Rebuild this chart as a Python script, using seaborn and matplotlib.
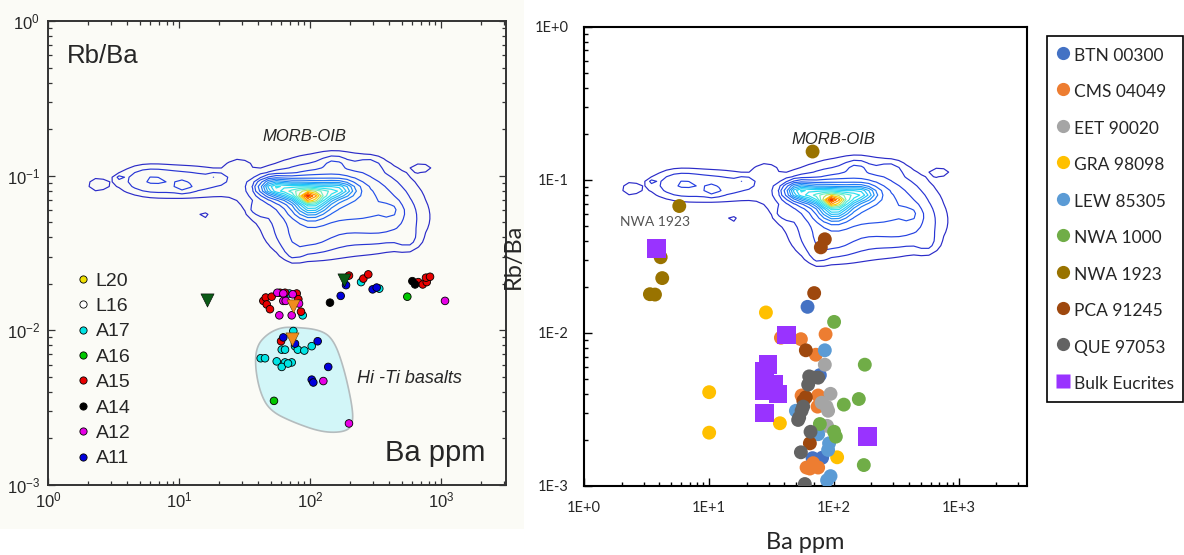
import numpy as np
import pandas as pd
import matplotlib
matplotlib.use("Agg")
import matplotlib.pyplot as plt
import seaborn as sns
from matplotlib.lines import Line2D
from matplotlib.patches import Polygon, Rectangle
from matplotlib.colors import LinearSegmentedColormap
from matplotlib.ticker import LogLocator, FixedLocator, FixedFormatter, NullFormatter

sns.set_theme(style="white")
plt.rcParams["mathtext.default"] = "regular"

# ---------------- Lunar basalts (left panel) ----------------
lunar_sites = ["L20", "L16", "A17", "A16", "A15", "A14", "A12", "A11"]
lunar_colors = ["#f0e000", "#ffffff", "#00e4e4", "#00c800", "#e80000", "#000000", "#e600e6", "#0000dc"]

a17_ba = [69.2, 87.5, 244, 336, 74.2, 76.4, 80.2, 90.0, 102.5, 60.5, 64.1, 41.8, 45.1, 55.4, 64.1, 72.1, 60.5, 67.6]
a17_rbba = [0.0173, 0.0125, 0.0205, 0.0186, 0.0099, 0.0079, 0.0075, 0.0074, 0.0079, 0.0075, 0.0075,
            0.0066, 0.0066, 0.0063, 0.0062, 0.0062, 0.0058, 0.0061]
a16_ba = [550, 52.8]
a16_rbba = [0.0165, 0.0035]
a15_ba = [43.8, 45.7, 46.5, 49.2, 50.7, 58.7, 64.1, 78.7, 81.0, 84.9, 197.3, 254, 277, 667, 721, 774, 764, 820, 59.8]
a15_rbba = [0.0155, 0.0163, 0.0147, 0.0137, 0.0165, 0.0175, 0.0175, 0.0173, 0.0159, 0.0132, 0.0226, 0.0216,
            0.0230, 0.0205, 0.0198, 0.0205, 0.0219, 0.0222, 0.0085]
a14_ba = [141.3, 601, 630]
a14_rbba = [0.0151, 0.0208, 0.0198]
a12_ba = [56.0, 62.2, 73.4, 62.2, 64.9, 82.0, 58.0, 72.1, 1067, 125.7, 197.3]
a12_rbba = [0.0175, 0.0173, 0.0171, 0.0155, 0.0155, 0.0149, 0.0125, 0.0125, 0.0155, 0.0047, 0.0025]
a11_ba = [187.4, 170.6, 299, 321, 62.2, 76.4, 113.8, 137, 102.5, 105.4]
a11_rbba = [0.0196, 0.0167, 0.0184, 0.0189, 0.0090, 0.0082, 0.0085, 0.0058, 0.0048, 0.0046]

tri_green_ba = [16.4, 181.9]
tri_green_rbba = [0.0157, 0.0213]
tri_orange_ba = [74.2, 72.1]
tri_orange_rbba = [0.0144, 0.0088]

# outline of the high-Ti basalt field
hiti_ba = [74.2, 118.6, 150, 178.6, 207, 213, 190, 125.7, 74.2, 49.2, 41.3, 37.8, 39.0, 46.5, 58.7]
hiti_rbba = [0.0105, 0.0101, 0.00875, 0.00589, 0.00341, 0.00254, 0.00221, 0.00218, 0.00254, 0.00302,
             0.00396, 0.00589, 0.00792, 0.00942, 0.0104]

# ---------------- Eucrites (right panel) ----------------
eucrite_names = ["BTN 00300", "CMS 04049", "EET 90020", "GRA 98098", "LEW 85305",
                 "NWA 1000", "NWA 1923", "PCA 91245", "QUE 97053"]
eucrite_colors = ["#4472c4", "#ed7d31", "#a5a5a5", "#ffc000", "#5b9bd5",
                  "#70ad47", "#997300", "#9e480e", "#636363"]
bulk_name = "Bulk Eucrites"
bulk_color = "#9933ff"

btn_ba = [61.6, 77.3, 67.6, 80.6]
btn_rbba = [0.0148, 0.0053, 0.00152, 0.00153]
cms_ba = [85.9, 37.7, 54.5, 71.8, 55.2, 74.9, 74.1, 60.5, 68.3, 74.9, 64.3]
cms_rbba = [0.0098, 0.0093, 0.0091, 0.0072, 0.0039, 0.0039, 0.0033, 0.00132, 0.00141, 0.00132, 0.0013]
eet_ba = [84.7, 94.1, 79.8, 87.5, 90.0, 88.3]
eet_rbba = [0.0062, 0.0040, 0.0035, 0.0033, 0.0031, 0.00247]
gra_ba = [28.6, 10.05, 10.05, 37.0, 106.3]
gra_rbba = [0.0136, 0.0041, 0.00223, 0.00257, 0.00154]
lew_ba = [84.7, 49.7, 74.9, 91.6, 90.0, 94.1, 88.3]
lew_rbba = [0.0077, 0.0031, 0.00218, 0.0019, 0.00172, 0.00116, 0.00109]
nwa1000_ba = [100.5, 177, 120.2, 158.5, 77.3, 100.5, 103.8, 173.8]
nwa1000_rbba = [0.0118, 0.0062, 0.0034, 0.0037, 0.00254, 0.00226, 0.0021, 0.00137]
nwa1923_ba = [67.6, 5.79, 4.11, 4.23, 3.37, 3.70]
nwa1923_rbba = [0.153, 0.0674, 0.0312, 0.0228, 0.0179, 0.0178]
pca_ba = [84.7, 78.7, 69.6, 59.7, 57.0, 59.7, 64.3]
pca_rbba = [0.0409, 0.0362, 0.0182, 0.0077, 0.0036, 0.0038, 0.0019]
que_ba = [63.5, 68.3, 74.9, 62.3, 56.8, 55.2, 52.8, 51.8, 65.1, 54.5, 58.6]
que_rbba = [0.0052, 0.0051, 0.0051, 0.0046, 0.0033, 0.0031, 0.0028, 0.0027, 0.00226, 0.00166, 0.00103]
bulk_ba = [3.82, 41.8, 29.8, 27.7, 27.7, 32.7, 27.7, 35.8, 27.7, 186]
bulk_rbba = [0.0357, 0.0097, 0.0062, 0.0056, 0.0047, 0.0046, 0.0042, 0.0040, 0.0030, 0.0021]

# ---------------- MORB-OIB density field: components in log10 units ----------------
morb_logba = [1.985, 1.72, 1.88, 2.05, 2.22, 2.00, 2.20, 2.10, 1.95, 2.60, 1.00, 0.75,
              1.03, 1.29, 0.37, 0.53, 2.85, 1.05, 1.18, 2.18,
              1.87, 2.75, 2.45, 1.45, 2.62, 1.60]
morb_logratio = [-1.137, -1.075, -1.10, -1.12, -1.09, -1.20, -1.19, -1.12, -1.40, -1.30, -1.04, -1.02,
                 -1.07, -1.01, -1.06, -1.015, -0.95, -1.26, -1.26, -0.92,
                 -1.50, -1.42, -0.93, -0.93, -1.22, -1.22]
morb_weight = [0.6, 0.45, 0.5, 0.5, 0.35, 0.35, 0.09, 0.10, 0.05, 0.045, 0.06, 0.03,
               0.05, 0.04, 0.035, 0.03, 0.035, 0.03, 0.03, 0.04,
               0.025, 0.025, 0.03, 0.03, 0.04, 0.03]
morb_sx = [0.04, 0.07, 0.09, 0.09, 0.08, 0.08, 0.34, 0.30, 0.15, 0.18, 0.30, 0.12,
           0.04, 0.04, 0.05, 0.02, 0.05, 0.03, 0.04, 0.06,
           0.05, 0.06, 0.06, 0.06, 0.05, 0.04]
morb_sy = [0.02, 0.035, 0.04, 0.045, 0.035, 0.05, 0.19, 0.10, 0.08, 0.10, 0.07, 0.06,
           0.02, 0.02, 0.03, 0.015, 0.02, 0.02, 0.02, 0.03,
           0.04, 0.05, 0.03, 0.03, 0.04, 0.03]
morb_levels = [0.02, 0.04, 0.07, 0.11, 0.17, 0.24, 0.31, 0.38, 0.45, 0.52, 0.6, 0.68, 0.76, 0.85,
               0.95, 1.05, 1.2, 1.35, 1.5]
morb_peak_levels = [1.2, 1.35, 1.5, 10]

morb_cmap = LinearSegmentedColormap.from_list(
    "morb", ["#2b2bc8", "#2540e0", "#2060f0", "#1f90f6", "#22c0f8", "#2ae0f0", "#70f0c0",
             "#ffd000", "#ff6a00", "#e00000"])


def morb_field():
    lx = np.arange(0.0, 3.6, 0.06)
    ly = np.arange(-2.0, -0.45, 0.03)
    X, Y = np.meshgrid(lx, ly)
    Z = np.zeros_like(X)
    for cx, cy, w, sx, sy in zip(morb_logba, morb_logratio, morb_weight, morb_sx, morb_sy):
        Z += w * np.exp(-0.5 * (((X - cx) / sx) ** 2 + ((Y - cy) / sy) ** 2))
    return 10 ** X, 10 ** Y, Z


def draw_morb(ax):
    X, Y, Z = morb_field()
    n = len(morb_levels)
    cols = [morb_cmap(i / (n - 1)) for i in range(n)]
    ax.contourf(X, Y, Z, levels=morb_peak_levels, colors=["#ffb000", "#ff5000", "#d80000"], zorder=1)
    ax.contour(X, Y, Z, levels=morb_levels, colors=cols, linewidths=0.85, zorder=2)


def smooth_closed(xs, ys, n_iter=3):
    pts = np.column_stack([np.log10(xs), np.log10(ys)])
    for _ in range(n_iter):
        nxt = np.roll(pts, -1, axis=0)
        q = 0.75 * pts + 0.25 * nxt
        r = 0.25 * pts + 0.75 * nxt
        pts = np.empty((2 * len(q), 2))
        pts[0::2] = q
        pts[1::2] = r
    return 10 ** pts


fig = plt.figure(figsize=(11.84, 5.55), dpi=100)
fig.patch.set_facecolor("white")
fig.add_artist(Rectangle((0, 1 - 529 / 555), 524 / 1184, 529 / 555, transform=fig.transFigure,
                         facecolor="#fbfbf6", edgecolor="none", zorder=0))

axL = fig.add_axes([48.3 / 1184, 1 - 485 / 555, 457.4 / 1184, 464 / 555])
axR = fig.add_axes([584 / 1184, 1 - 486 / 555, 442.7 / 1184, 459.3 / 555])

# ================= left panel =================
lf = "Liberation Sans"
axL.set_facecolor("#fbfbf6")
axL.set_xscale("log")
axL.set_yscale("log")
axL.set_xlim(1, 3100)
axL.set_ylim(1e-3, 1)

draw_morb(axL)

poly = smooth_closed(hiti_ba, hiti_rbba)
axL.add_patch(Polygon(poly, closed=True, facecolor="#d2f6f8", edgecolor="#b4bcbe", linewidth=1.2, zorder=1.5))

lunar_df = pd.concat([
    pd.DataFrame({"ba": a17_ba, "rbba": a17_rbba, "site": "A17"}),
    pd.DataFrame({"ba": a16_ba, "rbba": a16_rbba, "site": "A16"}),
    pd.DataFrame({"ba": a15_ba, "rbba": a15_rbba, "site": "A15"}),
    pd.DataFrame({"ba": a14_ba, "rbba": a14_rbba, "site": "A14"}),
    pd.DataFrame({"ba": a12_ba, "rbba": a12_rbba, "site": "A12"}),
    pd.DataFrame({"ba": a11_ba, "rbba": a11_rbba, "site": "A11"}),
], ignore_index=True)
lunar_pal = dict(zip(lunar_sites, lunar_colors))
sns.scatterplot(data=lunar_df, x="ba", y="rbba", hue="site", palette=lunar_pal, s=30,
                edgecolor="black", linewidth=0.6, legend=False, ax=axL, zorder=4)
sns.scatterplot(x=tri_green_ba, y=tri_green_rbba, marker="v", color="#0b5a16", s=90,
                edgecolor="black", linewidth=0.4, ax=axL, zorder=5)
sns.scatterplot(x=tri_orange_ba, y=tri_orange_rbba, marker="v", color="#f08c1e", s=90,
                edgecolor="#604000", linewidth=0.4, ax=axL, zorder=5)

axL.text(91, 0.178, "MORB-OIB", style="italic", fontsize=12, family=lf, ha="center", va="center", zorder=6)
axL.text(227, 0.0049, "Hi -Ti basalts", style="italic", fontsize=13, family=lf, ha="left", va="center", zorder=6)
axL.text(0.04, 0.925, "Rb/Ba", transform=axL.transAxes, fontsize=18.5, family=lf, ha="left", va="center")
axL.text(0.955, 0.068, "Ba ppm", transform=axL.transAxes, fontsize=21, family=lf, ha="right", va="center")

axL.xaxis.set_major_locator(LogLocator(base=10, numticks=10))
axL.xaxis.set_minor_locator(LogLocator(base=10, subs=np.arange(2, 10), numticks=40))
axL.yaxis.set_major_locator(LogLocator(base=10, numticks=10))
axL.yaxis.set_minor_locator(LogLocator(base=10, subs=np.arange(2, 10), numticks=40))
axL.xaxis.set_minor_formatter(NullFormatter())
axL.yaxis.set_minor_formatter(NullFormatter())
axL.tick_params(which="both", direction="in", top=True, right=True, bottom=True, left=True,
                color="#333333", width=0.9)
axL.tick_params(which="major", length=5, labelsize=12, pad=6)
axL.tick_params(axis="x", which="major", pad=4)
axL.tick_params(which="minor", length=2.8)
for lab in axL.get_xticklabels() + axL.get_yticklabels():
    lab.set_family(lf)
for sp in axL.spines.values():
    sp.set_color("#333333")
    sp.set_linewidth(1.4)
axL.set_xlabel("")
axL.set_ylabel("")

lh = [Line2D([], [], ls="", marker="o", markersize=5.2, markerfacecolor=c, markeredgecolor="black",
             markeredgewidth=0.6) for c in lunar_colors]
legL = axL.legend(lh, lunar_sites, loc="upper left", bbox_to_anchor=(77 / 1184, 1 - 272 / 555),
                  bbox_transform=fig.transFigure, frameon=False, labelspacing=0.40,
                  handlelength=0.6, handletextpad=0.35, borderpad=0, borderaxespad=0,
                  prop={"family": lf, "size": 14})

# ================= right panel =================
rf = "Lato"
axR.set_facecolor("white")
axR.set_xscale("log")
axR.set_yscale("log")
axR.set_xlim(1, 3500)
axR.set_ylim(1e-3, 1)

draw_morb(axR)

eu_df = pd.concat([
    pd.DataFrame({"ba": b, "rbba": r, "meteorite": n}) for n, b, r in zip(
        eucrite_names,
        [btn_ba, cms_ba, eet_ba, gra_ba, lew_ba, nwa1000_ba, nwa1923_ba, pca_ba, que_ba],
        [btn_rbba, cms_rbba, eet_rbba, gra_rbba, lew_rbba, nwa1000_rbba, nwa1923_rbba, pca_rbba, que_rbba])
], ignore_index=True)
eu_pal = dict(zip(eucrite_names, eucrite_colors))
sns.scatterplot(data=eu_df, x="ba", y="rbba", hue="meteorite", palette=eu_pal, s=100,
                edgecolor="none", linewidth=0, legend=False, ax=axR, zorder=4)
sns.scatterplot(x=bulk_ba, y=bulk_rbba, marker="s", color=bulk_color, s=180,
                edgecolor="none", linewidth=0, ax=axR, zorder=5)

axR.text(99, 0.182, "MORB-OIB", style="italic", fontsize=12, family=lf, ha="center", va="center", zorder=6)
axR.text(3.7, 0.0532, "NWA 1923", fontsize=10, family=rf, color="#555555", ha="center", va="center", zorder=6)

axR.xaxis.set_major_locator(FixedLocator([1, 10, 100, 1000]))
axR.xaxis.set_major_formatter(FixedFormatter(["1E+0", "1E+1", "1E+2", "1E+3"]))
axR.xaxis.set_minor_locator(LogLocator(base=10, subs=np.arange(2, 10), numticks=40))
axR.yaxis.set_major_locator(FixedLocator([1e-3, 1e-2, 1e-1, 1]))
axR.yaxis.set_major_formatter(FixedFormatter(["1E-3", "1E-2", "1E-1", "1E+0"]))
axR.yaxis.set_minor_locator(LogLocator(base=10, subs=np.arange(2, 10), numticks=40))
axR.xaxis.set_minor_formatter(NullFormatter())
axR.yaxis.set_minor_formatter(NullFormatter())
axR.tick_params(which="both", direction="in", top=False, right=False, bottom=True, left=True,
                color="black", width=1.0)
axR.tick_params(which="major", length=5.5, labelsize=10.5, pad=11)
axR.tick_params(which="minor", length=3)
for lab in axR.get_xticklabels() + axR.get_yticklabels():
    lab.set_family(rf)
for sp in axR.spines.values():
    sp.set_color("black")
    sp.set_linewidth(1.5)
axR.set_xlabel("Ba ppm", fontsize=17, family=rf, labelpad=12)
axR.set_ylabel("Rb/Ba", fontsize=17, family=rf, labelpad=8)

rh = [Line2D([], [], ls="", marker="o", markersize=9.5, markerfacecolor=c, markeredgecolor="none")
      for c in eucrite_colors]
rh.append(Line2D([], [], ls="", marker="s", markersize=9.5, markerfacecolor=bulk_color, markeredgecolor="none"))
legR = fig.legend(rh, eucrite_names + [bulk_name], loc="upper left", bbox_to_anchor=(1047 / 1184, 1 - 36 / 555),
                  frameon=True, fancybox=False, edgecolor="black", framealpha=1,
                  labelspacing=0.9, handlelength=0.9, handleheight=1.47, handletextpad=0.15,
                  borderpad=0.5, borderaxespad=0, prop={"family": rf, "size": 12.5})
legR.get_frame().set_linewidth(1.2)

fig.savefig("out.png", dpi=100, facecolor="white")
